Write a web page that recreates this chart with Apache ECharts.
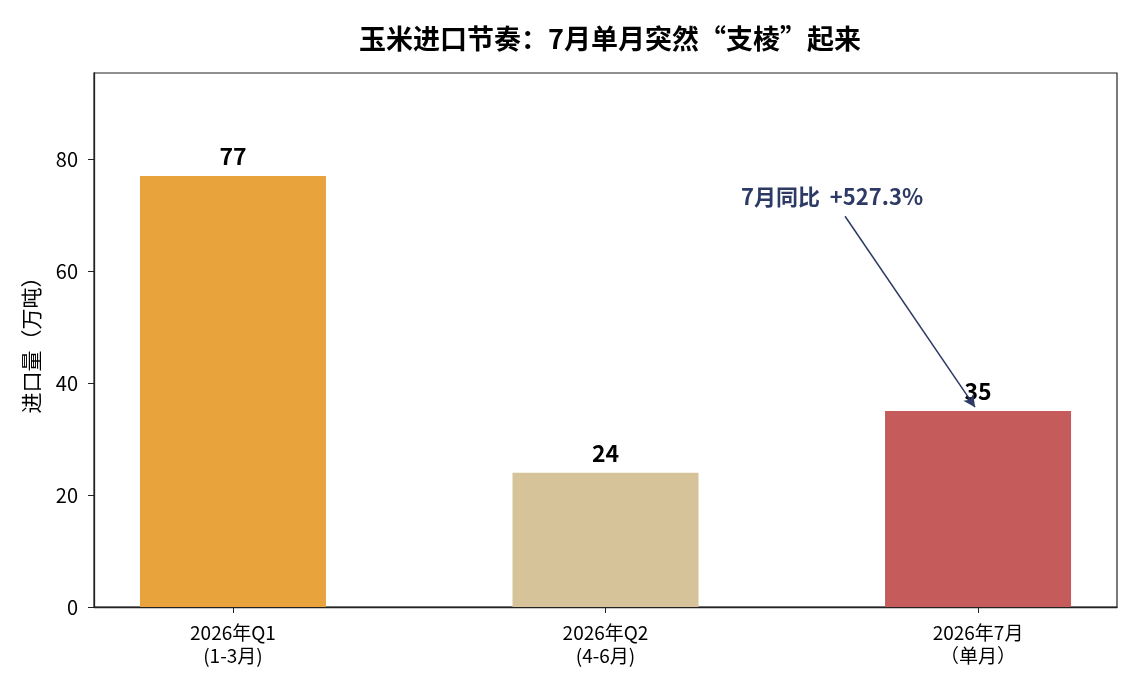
<!DOCTYPE html>
<html>
<head>
<meta charset="utf-8">
<script src="https://cdn.jsdelivr.net/npm/echarts@6/dist/echarts.min.js"></script>
<style>
  html, body { margin: 0; padding: 0; background: #fff; }
  #main { width: 1140px; height: 690px; }
</style>
</head>
<body>
<div id="main"></div>
<script>
'use strict';
// 数据
var categories = ['2026年Q1\n(1-3月)', '2026年Q2\n(4-6月)', '2026年7月\n（单月）'];
var imports = [77, 24, 35];
var barColors = ['#E8A33D', '#D6C399', '#C55B5B'];
var yTicks = [0, 20, 40, 60, 80];
var noteText = '7月同比  +527.3%';
var notePos = [1.608, 73.4];
var arrowFrom = [1.643, 69.8];
var arrowTo = [1.992, 35.7];

var font = '"Noto Sans CJK SC", "Noto Sans", sans-serif';

var barData = [];
for (var i = 0; i < imports.length; i++) {
    barData.push({ value: [i, imports[i]], itemStyle: { color: barColors[i] } });
}

var myChart = echarts.init(document.getElementById('main'));
var option = {
    animation: false,
    backgroundColor: '#fff',
    textStyle: { fontFamily: font },
    title: {
        text: '玉米进口节奏：7月单月突然“支棱”起来',
        left: 605, top: 20, textAlign: 'center',
        textStyle: { fontSize: 27, fontWeight: 'bold', color: '#000', fontFamily: font }
    },
    grid: {
        left: 94, right: 23, top: 73, bottom: 83,
        show: true, borderColor: '#222', borderWidth: 1.2
    },
    xAxis: {
        type: 'value',
        min: -0.373, max: 2.373,
        splitLine: { show: false },
        axisLine: { show: true, lineStyle: { color: '#222', width: 1.3 } },
        axisTick: { show: true, length: 6, lineStyle: { color: '#222' }, customValues: [0, 1, 2] },
        axisLabel: {
            customValues: [0, 1, 2],
            color: '#000', fontSize: 19, lineHeight: 23, margin: 14,
            formatter: function (v) { return categories[Math.round(v)]; }
        }
    },
    yAxis: {
        type: 'value',
        min: 0, max: 95.4,
        name: '进口量（万吨）',
        nameLocation: 'middle', nameGap: 52, nameRotate: 90,
        nameTextStyle: { fontSize: 21, color: '#000' },
        splitLine: { show: false },
        axisLine: { show: true, onZero: false, lineStyle: { color: '#222', width: 1.3 } },
        axisTick: { show: true, length: 6, lineStyle: { color: '#222' }, customValues: yTicks },
        axisLabel: { customValues: yTicks, color: '#000', fontSize: 20, margin: 16 }
    },
    series: [
        {
            type: 'bar',
            barWidth: 186,
            data: barData,
            label: {
                show: true, position: 'top', distance: 8,
                formatter: function (p) { return p.value[1]; },
                fontSize: 23, fontWeight: 'bold', color: '#000'
            },
            markLine: {
                silent: true,
                symbol: ['none', 'arrow'],
                symbolSize: [9, 12],
                lineStyle: { color: '#2E3A66', width: 1.5, type: 'solid' },
                label: { show: false },
                data: [[{ coord: arrowFrom }, { coord: arrowTo }]]
            },
            markPoint: {
                silent: true,
                symbol: 'circle', symbolSize: 0,
                label: {
                    show: true, position: 'inside',
                    formatter: noteText,
                    fontSize: 22, fontWeight: 'bold', color: '#2E3A66'
                },
                data: [{ coord: notePos }]
            }
        }
    ]
};
myChart.setOption(option);
</script>
</body>
</html>
